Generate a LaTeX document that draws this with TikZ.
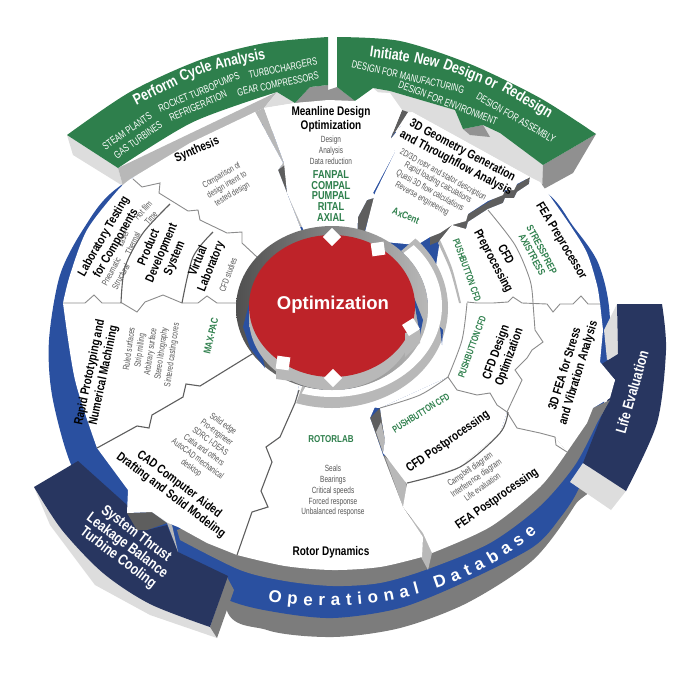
\documentclass[tikz,border=0pt]{standalone}
\usepackage{fontspec}
\usepackage{xcolor}
\usetikzlibrary{decorations.text}
\newfontfamily\narrowfont[FakeStretch=0.8]{Liberation Sans}
\newfontfamily\slimfont[FakeStretch=0.72]{Liberation Sans}
\newfontfamily\widefont{Liberation Sans}

\definecolor{bandgreen}{HTML}{2E7F4C}
\definecolor{ringblue}{HTML}{2A50A0}
\definecolor{flapnavy}{HTML}{283660}
\definecolor{corered}{HTML}{BE2329}
\definecolor{notegray}{HTML}{555555}
\definecolor{rimgray}{HTML}{7C7C7C}
\definecolor{sidegray}{HTML}{B8B8B8}
\definecolor{palegray}{HTML}{DDDDDD}
\definecolor{seamgray}{HTML}{8C8C8C}
\definecolor{darkside}{HTML}{5E5E5E}

\tikzset{
panelface/.style = {fill=white},
seamline/.style  = {draw=seamgray, line width=0.9pt},
darkseam/.style  = {draw=darkside, line width=1.1pt},
titletext/.style = {font=\narrowfont\bfseries\fontsize{12.5}{14}\selectfont, align=center, inner sep=0pt},
notetext/.style  = {font=\slimfont\fontsize{9}{10.8}\selectfont, text=notegray, align=center, inner sep=0pt},
codetext/.style  = {font=\narrowfont\bfseries\fontsize{10}{11}\selectfont, text=bandgreen, align=center, inner sep=0pt},
pushtext/.style  = {font=\slimfont\bfseries\fontsize{9.8}{11}\selectfont, text=bandgreen, inner sep=0pt},
bandtext/.style  = {font=\slimfont\fontsize{10.5}{12}\selectfont, text=white, inner sep=0pt},
headtext/.style  = {font=\narrowfont\bfseries\fontsize{15.5}{16}\selectfont, text=white, inner sep=0pt},
flaptext/.style  = {font=\narrowfont\bfseries\fontsize{15}{15}\selectfont, text=white, align=center, inner sep=0pt},
tipbox/.style    = {fill=white, minimum size=13pt, inner sep=0pt}
}

\begin{document}
\begin{tikzpicture}[x=1pt,y=-1pt]
\useasboundingbox (0,0) rectangle (700,675);

% base ring
\fill[rimgray] plot[smooth cycle] coordinates {(225,600) (267,630) (333,637) (400,628) (467,603) (533,560) (575,505) (590,470) (400,400) (260,420)};
\fill[ringblue] plot[smooth cycle] coordinates {(330,130) (200,140) (116,189) (84,228) (60,275) (49,340) (52,395) (70,462) (100,515) (160,565) (228,600) (275,612) (333,618) (400,608) (467,581) (533,547) (560,518) (579,488) (600,430) (610,323) (599,265) (573,226) (543,190) (450,140)};

% life evaluation flap
\fill[palegray] (617,304) -- (604,330) -- (607,360) -- (618,354) -- cycle;
\fill[palegray] (583,463) -- (626,491) -- (611,510) -- (570,482) -- cycle;
\fill[flapnavy] (617,304) -- (662,304) -- plot[smooth] coordinates {(662,304) (666,350) (657,423) (626,491)} -- (583,463) -- (600,420) -- (615,380) -- (600,365) -- (618,354) -- cycle;

% system flap
\fill[palegray] (34,487) -- (50,525) -- (95,585) -- (150,615) -- (217,638) -- (210,627) -- cycle;
\fill[rimgray] (227,577) -- (234,590) -- (217,638) -- (210,627) -- cycle;
\fill[flapnavy] (34,487) -- (78,461) -- (127,505) -- (137,530) -- (147,530) -- (167,525) -- (178,552) -- (228,576) -- (210,627) -- plot[smooth] coordinates {(210,627) (150,604) (103,573) (62,530) (34,487)} -- cycle;

% rim under the panels
\fill[rimgray] (177,530) -- (180,540) -- plot[smooth] coordinates {(180,540) (240,570) (285,581) (333,586) (380,583) (428,569) (490,543) (540,506) (575,465) (597,423)} -- (610,400) -- (593,408) -- (400,450) -- cycle;
\fill[darkside] (127,513) -- (152,512) -- (167,523) -- (147,530) -- (137,530) -- cycle;
\fill[sidegray] (152,512) -- (167,523) -- (178,552) -- (172,525) -- cycle;

% green band, left
\fill[palegray] (67,135) -- (118,168) -- (123,186) -- (73,155) -- cycle;
\fill[sidegray] (118,168) -- (123,186) -- (132,178) -- (255,112) -- (264,108) -- (277,92) -- cycle;
\fill[palegray] (277,92) -- (295,103) -- (264,108) -- cycle;
\fill[sidegray!80!black] (295,103) -- (310,87) -- (328,85) -- (328,101) -- cycle;
\fill[bandgreen] (67,135) -- plot[smooth] coordinates {(67,135) (130,92) (200,60) (265,43) (328,37)} -- (328,85) -- (310,87) -- (295,103) -- (277,92) -- plot[smooth] coordinates {(277,92) (193,122) (118,168)} -- cycle;

% green band, right
\fill[sidegray!80!black] (337,87) -- (355,101) -- (328,101) -- (328,90) -- cycle;
\fill[palegray] (373,88) -- (390,91) -- (455,110) -- (463,129) -- (483,125) -- (500,133) -- (543,165) -- (542,190) -- (530,177) -- (412,112) -- (402,112) -- cycle;
\fill[sidegray!80!black] (463,129) -- (483,125) -- (490,137) -- (470,135) -- cycle;
\fill[rimgray!85!white] (596,134) -- (543,165) -- (542,190) -- (573,173) -- cycle;
\fill[bandgreen] (337,37) -- plot[smooth] coordinates {(337,37) (400,41) (470,64) (540,98) (596,134)} -- (543,165) -- (500,133) -- (483,125) -- (463,129) -- (455,110) -- (390,91) -- (373,88) -- (355,101) -- (337,87) -- cycle;

% gaps between the upper panels
\fill[sidegray] (255,112) -- (264,108) -- (284,163) -- (286,193) -- (308,227) -- (308,242) -- (302,232) -- (278,170) -- (283,163) -- cycle;
\fill[ringblue] (262,124) -- (273,155) -- (268,148) -- cycle;
\fill[darkside] (278,170) -- (285,165) -- (287,193) -- cycle;
\fill[ringblue] (298,227) -- (303,227) -- (305,241) -- cycle;
\fill[darkside] (402,110) -- (408,112) -- (390,140) -- cycle;
\fill[ringblue] (403,125) -- (395,137) -- (400,127) -- cycle;
\fill[darkside] (377,197) -- (368,220) -- (362,240) -- (357,238) -- (358,217) -- (367,200) -- cycle;
\fill[darkside] (530,177) -- (529,184) -- (517,192) -- (514,198) -- (505,198) -- (503,203) -- (488,209) -- (468,222) -- (466,229) -- (452,233) -- (440,241) -- (430,245) -- (430,237) -- cycle;

% side faces at the lower right
\fill[darkside] (370,418) -- (380,408) -- (382,422) -- (385,440) -- (383,453) -- (375,432) -- cycle;
\fill[sidegray] (381,422) -- (385,440) -- (383,453) -- (376,432) -- cycle;
\fill[sidegray] (385,457) -- (403,472) -- (408,493) -- (403,507) -- cycle;
\fill[sidegray] (403,510) -- (423,530) -- (432,553) -- (428,570) -- (421,557) -- (423,537) -- cycle;

% white panels
\fill[panelface] (132,178) -- (190,143) -- (255,112) -- (283,163) -- (278,170) -- (302,232) -- (257,257) -- (242,243) -- (242,232) -- (227,233) -- (200,220) -- (198,210) -- (188,211) -- (159,193) -- (160,183) -- (142,187) -- cycle;
\fill[panelface] (132,178) -- plot[smooth] coordinates {(132,178) (118,190) (87,230) (70,275) (63,303)} -- (237,303) -- (257,257) -- (242,243) -- (242,232) -- (227,233) -- (200,220) -- (198,210) -- (188,211) -- (159,193) -- (160,183) -- (142,187) -- cycle;
\fill[panelface] (63,303) -- (237,303) -- (240,325) -- (252,354) -- (200,386) -- (186,384) -- (183,397) -- (152,415) -- (149,428) -- (137,426) -- (97,448) -- plot[smooth] coordinates {(97,448) (75,380) (63,303)} -- cycle;
\fill[panelface] (97,448) -- (137,426) -- (149,428) -- (152,415) -- (183,397) -- (186,384) -- (200,386) -- (252,354) -- (299,385) -- (295,403) -- (280,437) -- (266,447) -- (272,462) -- (261,491) -- (268,507) -- (252,512) -- (237,555) -- (207,543) -- (178,527) -- (168,523) -- (152,512) -- (127,513) -- (128,490) -- cycle;
\fill[panelface] (299,385) -- (340,395) -- (378,400) -- (370,418) -- (375,432) -- (383,455) -- (403,507) -- (423,537) -- (422,557) -- plot[smooth] coordinates {(422,557) (380,567) (333,570) (285,566) (237,555)} -- (252,512) -- (268,507) -- (261,491) -- (272,462) -- (266,447) -- (280,437) -- (295,403) -- cycle;
\fill[panelface] (264,108) -- (295,103) -- (328,100) -- (355,101) -- (373,92) -- (390,93) -- (402,110) -- (391,137) -- (395,152) -- (373,193) -- (377,197) -- (367,200) -- (358,217) -- (357,240) -- (308,240) -- (287,193) -- (284,163) -- cycle;
\fill[panelface] (412,112) -- (530,177) -- (517,184) -- (514,190) -- (505,190) -- (503,195) -- (488,201) -- (468,214) -- (466,221) -- (452,225) -- (440,233) -- (430,237) -- (417,245) -- (363,240) -- (375,193) -- (395,152) -- (390,140) -- cycle;
\fill[panelface] (440,240) -- (452,225) -- (466,229) -- (468,222) -- (488,209) -- (503,203) -- (505,198) -- (514,198) -- (517,192) -- (529,184) -- (530,177) -- (540,182) -- plot[smooth] coordinates {(540,182) (570,225) (587,253) (597,285) (600,304)} -- (430,304) -- cycle;
\fill[panelface] (430,303) -- (600,303) -- (603,330) -- (600,362) -- (615,380) -- (610,398) -- (593,408) -- (587,423) -- (567,452) -- (555,437) -- (540,433) -- (517,428) -- (507,412) -- (497,405) -- (490,393) -- (477,395) -- (457,390) -- (448,377) -- (380,408) -- (340,405) -- cycle;
\fill[panelface] (380,408) -- (448,377) -- (457,390) -- (477,395) -- (490,393) -- (497,405) -- (507,412) -- (500,433) -- (460,467) -- (407,484) -- (385,455) -- (383,453) -- (385,440) -- (382,422) -- cycle;
\fill[panelface] (407,484) -- (460,467) -- (500,433) -- (507,412) -- (517,428) -- (540,433) -- (555,437) -- (567,452) -- plot[smooth] coordinates {(567,452) (540,487) (490,527) (432,553)} -- (423,533) -- (403,507) -- cycle;

% seams
\draw[seamline] (133,179) -- (142,187) -- (160,183) -- (159,193) -- (188,211) -- (198,210) -- (200,220) -- (227,233) -- (242,232) -- (242,243) -- (257,257);
\draw[seamline] (63,303) -- (85,303) -- (94,295) -- (102,303) -- (122,303) -- (137,312) -- (145,302) -- (163,295) -- (182,303) -- (198,303) -- (207,296) -- (217,303) -- (237,303);
\draw[darkseam] (97,448) -- (137,426) -- (149,428) -- (152,415) -- (183,397) -- (186,384) -- (200,386) -- (252,354);
\draw[darkseam] (299,390) -- (295,403) -- (280,437) -- (266,447) -- (272,462) -- (261,491) -- (268,507) -- (252,512) -- (237,555);
\draw[darkseam] plot[smooth] coordinates {(170,204) (143,233) (125,267) (121,303)};
\draw[darkseam] plot[smooth] coordinates {(213,232) (193,257) (182,303)};
\draw[seamline] plot[smooth] coordinates {(488,210) (515,245) (530,280) (533,303)};
\draw[seamline] (467,302) -- (477,303) -- (493,303) -- (508,302) -- (513,297) -- (522,303) -- (547,304) -- (553,312) -- (560,304) -- (573,304) -- (581,296) -- (588,304) -- (600,304);
\draw[seamline] plot[smooth] coordinates {(467,303) (462,340) (448,377)};
\draw[seamline] (448,377) -- (457,390) -- (477,395) -- (490,393) -- (497,405) -- (507,412);
\draw[seamline] plot[smooth] coordinates {(448,377) (420,395) (380,408)};
\draw[seamline] (533,303) -- (535,330) -- (543,342) -- (532,350) -- (527,358) -- (515,370) -- (522,380) -- (507,412) -- (517,428) -- (540,433) -- (555,437) -- (556,445) -- (567,452);
\draw[darkseam] plot[smooth] coordinates {(508,412) (500,433) (460,467) (407,483)};

% rings round the core
\fill[sidegray] plot[smooth] coordinates {(440,240) (452,268) (461,303)} -- (459,303) -- plot[smooth] coordinates {(459,303) (450,270) (438,243)} -- cycle;
\fill[sidegray] plot[domain=-44:108,samples=60] ({332+116*cos(\x)},{308+100*sin(\x)}) -- plot[domain=108:-44,samples=60] ({332+96*cos(\x)},{308+82*sin(\x)}) -- cycle;
\fill[white] plot[domain=-42:106,samples=60] ({332+110*cos(\x)},{306+91*sin(\x)}) -- plot[domain=106:-42,samples=60] ({332+96*cos(\x)},{308+82*sin(\x)}) -- cycle;
\fill[ringblue] (440,327) -- (443,330) -- (442,345) -- cycle;
\shade[left color=darkside!85!black, right color=sidegray] (332,308) ellipse [x radius=96, y radius=-82];
\fill[ringblue] (250,300) -- (243,327) -- (250,348) -- (265,368) -- cycle;
\fill[ringblue] (413,295) -- (423,320) -- (420,335) -- cycle;
\shade[left color=sidegray, middle color=rimgray, right color=sidegray] (332,318) ellipse [x radius=83, y radius=-72];
\fill[corered] (332,306) ellipse [x radius=83, y radius=-71];

% stems and tabs on the core
\fill[sidegray] (405,333) -- (420,330) -- (420,343) -- (405,357) -- cycle;
\fill[sidegray] (323,378) -- (343,378) -- (343,390) -- (323,390) -- cycle;
\fill[sidegray] (276,368) -- (291,368) -- (291,381) -- (276,379) -- cycle;
\foreach \tabname/\tabx/\taby/\tabangle in {tabtop/332/237/45,tabupper/378/249/8,tabright/411/327/32,tabbottom/333/378/45,tableft/283/363/-8}
  \node[tipbox,rotate=\tabangle] (\tabname) at (\tabx,\taby) {};

% title on the core
\node[font=\widefont\bfseries\fontsize{18.5}{20}\selectfont,text=white,inner sep=0pt] (optimization) at (333,305) {Optimization};

% band texts
\node[headtext,rotate=27] (perform) at (155,90) {Perform};
\node[headtext,rotate=21] (cycle) at (196,72) {Cycle};
\node[headtext,rotate=12] (analysis) at (240,60) {Analysis};
\node[bandtext,rotate=35] (steam) at (127,131) {STEAM PLANTS};
\node[bandtext,rotate=23] (rocket) at (199,92) {ROCKET TURBOPUMPS};
\node[bandtext,rotate=11] (turbo) at (283,68) {TURBOCHARGERS};
\node[bandtext,rotate=35] (gas) at (138,140) {GAS TURBINES};
\node[bandtext,rotate=24] (refrig) at (198,106) {REFRIGERATION};
\node[bandtext,rotate=12] (gear) at (278,84) {GEAR COMPRESSORS};
\node[headtext,rotate=-8] (initiate) at (390,54) {Initiate};
\node[headtext,rotate=-14] (new) at (427,60) {New};
\node[headtext,rotate=-21] (design) at (463,72) {Design};
\node[headtext,rotate=-26] (orword) at (491,83) {or};
\node[headtext,rotate=-31] (redesign) at (527,101) {Redesign};
\node[bandtext,rotate=-13] (manufact) at (408,77) {DESIGN FOR MANUFACTURING};
\node[bandtext,rotate=-30] (assembly) at (516,118) {DESIGN FOR ASSEMBLY};
\node[bandtext,rotate=-21] (environ) at (448,103) {DESIGN FOR ENVIRONMENT};

% upper panels
\node[titletext] (meanline) at (331,119) {Meanline Design\\Optimization};
\node[notetext] (meannote) at (331,150) {Design\\Analysis\\Data reduction};
\node[codetext,font=\narrowfont\bfseries\fontsize{11.5}{10.7}\selectfont] (meancode) at (331,196) {FANPAL\\COMPAL\\PUMPAL\\RITAL\\AXIAL};
\node[titletext,rotate=23] (synthesis) at (197,150) {Synthesis};
\node[notetext,rotate=30] (comparison) at (227,185) {Comparison of\\design intent to\\tested design};
\node[titletext,rotate=60] (labtest) at (110,240) {Laboratory Testing\\for Components};
\node[notetext,rotate=48] (hotfilm) at (147,214) {Hot film\\Time};
\node[notetext,rotate=65] (laser) at (128,241) {Laser\\Thermal};
\node[notetext,rotate=62] (pneumatic) at (116,274) {Pneumatic\\Structural};
\node[titletext,rotate=67] (product) at (162,253) {Product\\Development\\System};
\node[titletext,rotate=68] (virtual) at (205,264) {Virtual\\Laboratory};
\node[notetext,rotate=70] (cfdstudies) at (228,275) {CFD studies};
\node[titletext,rotate=-28] (geometry) at (459,157) {3D Geometry Generation\\and Throughflow Analysis};
\node[notetext,rotate=-29] (rotorstator) at (443,175) {2D/3D rotor and stator description};
\node[notetext,rotate=-29] (rapidload) at (438,183) {Rapid loading calculations};
\node[notetext,rotate=-29] (quasi) at (430,191) {Quasi 3D flow calculations};
\node[notetext,rotate=-29] (reverse) at (422,199) {Reverse engineering};
\node[codetext,rotate=-22] (axcent) at (406,216) {AxCent};

% right panels
\node[titletext,rotate=-59] (feapre) at (561,241) {FEA Preprocessor};
\node[codetext,rotate=-62] (stressprep) at (537,252) {STRESSPREP\\AXISTRESS};
\node[titletext,rotate=-62] (cfdpre) at (499,258) {CFD\\Preprocessing};
\node[pushtext,rotate=-70] (pushone) at (467,270) {PUSHBUTTON CFD};
\node[pushtext,rotate=70] (pushtwo) at (472,347) {PUSHBUTTON CFD};
\node[titletext,rotate=70] (cfddesign) at (503,355) {CFD Design\\Optimization};
\node[titletext,rotate=73] (feastress) at (572,371) {3D FEA for Stress\\and Vibration Analysis};
\node[pushtext,rotate=32] (pushthree) at (421,413) {PUSHBUTTON CFD};
\node[titletext,rotate=35] (cfdpost) at (448,442) {CFD Postprocessing};
\node[notetext,rotate=35] (campbell) at (476,478) {Campbell diagram\\Interference diagram\\Life evaluation};
\node[titletext,rotate=35] (feapost) at (497,499) {FEA Postprocessing};
\node[flaptext,rotate=74] (lifeeval) at (632,392) {Life Evaluation};

% lower panels
\node[codetext] (rotorlab) at (331,439) {ROTORLAB};
\node[notetext] (rotornote) at (333,491) {Seals\\Bearings\\Critical speeds\\Forced response\\Unbalanced response};
\node[titletext] (rotordyn) at (331,552) {Rotor Dynamics};
\node[titletext,rotate=-37] (cad) at (175,490) {CAD Computer Aided\\Drafting and Solid Modeling};
\node[notetext,rotate=-36] (cadnote) at (207,446) {Solid edge\\Pro-engineer\\SDRC I-DEAS\\Catia and others\\AutoCAD mechanical\\desktop};
\node[titletext,rotate=78] (rapid) at (97,374) {Rapid Prototyping and\\Numerical Machining};
\node[notetext,rotate=82] (surfaces) at (151,352) {Ruled surfaces\\Strip milling\\Arbitrary surface\\Stereo lithography\\Sintered casting cores};
\node[codetext,rotate=77] (maxpac) at (211,336) {MAX-PAC};
\node[flaptext,rotate=-37] (system) at (127,546) {System Thrust\\Leakage Balance\\Turbine Cooling};

% ring text
\path[decorate,decoration={text along path,text align=fit to path,text={|\widefont\bfseries\fontsize{17}{17}\selectfont\color{white}|Operational Database}}] (268,601) .. controls (370,618) and (470,590) .. (537,532);
\end{tikzpicture}
\end{document}
